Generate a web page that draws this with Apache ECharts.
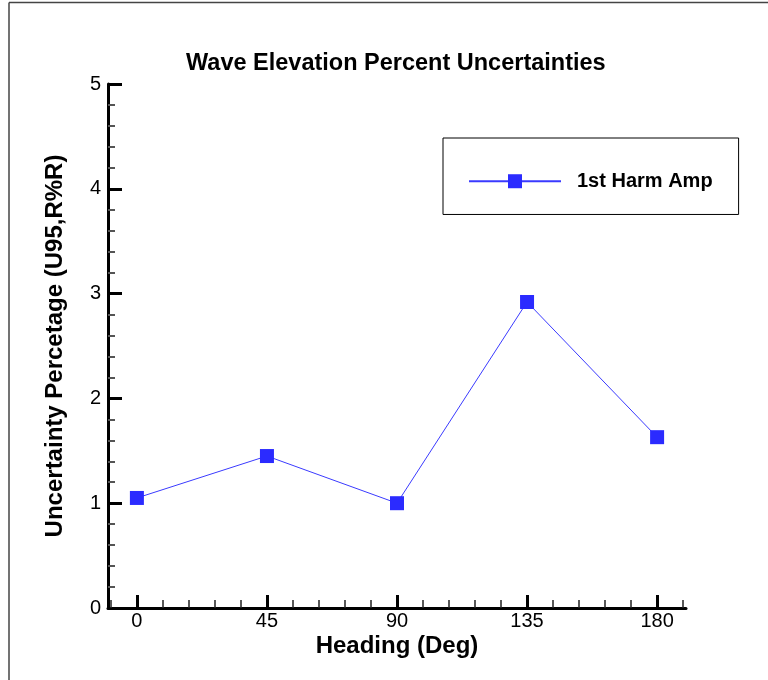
<!DOCTYPE html>
<html>
 <head>
  <title>Wave Elevation Percent Uncertainties</title>
  <script src="https://cdn.jsdelivr.net/npm/echarts@6/dist/echarts.min.js"></script>
  <style>
    html, body, #container {
    width: 100%;
    height: 100%;
    margin: 0;
    padding: 0;
    background: #fff;
    }
  </style>
 </head>

<body>
  <div id="container"></div>
  <script>
    var headings = [0, 45, 90, 135, 180];
    var uncertainty = [1.05, 1.45, 1.0, 2.92, 1.63];
    var xMajorTicks = [0, 45, 90, 135, 180];
    var xMinorTicks = [-9, 9, 18, 27, 36, 54, 63, 72, 81, 99, 108, 117, 126, 144, 153, 162, 171, 189];

    var font = '"Liberation Sans", Arial, sans-serif';
    var chartDom = document.getElementById('container');
    var myChart = echarts.init(chartDom);

    var points = headings.map(function (h, i) { return [h, uncertainty[i]]; });

    var options = {
      animation: false,
      textStyle: { fontFamily: font },
      title: {
        text: 'Wave Elevation Percent Uncertainties',
        left: 181,
        top: 38,
        textStyle: { fontFamily: font, fontSize: 23.5, fontWeight: 'bold', color: '#000' }
      },
      legend: {
        left: 443,
        top: 138,
        orient: 'horizontal',
        padding: [26, 26, 16, 25],
        borderColor: '#000',
        borderWidth: 1,
        itemWidth: 92,
        itemHeight: 17.5,
        textStyle: { fontFamily: font, fontSize: 20, fontWeight: 'bold', color: '#000', padding: [0, 0, 0, 11] },
        data: ['1st Harm Amp']
      },
      grid: { left: 108, top: 84, width: 578, height: 524, containLabel: false, outerBoundsMode: 'none' },
      xAxis: [
        {
          type: 'value',
          min: -10,
          max: 190,
          name: 'Heading (Deg)',
          nameLocation: 'middle',
          nameGap: 18,
          nameMoveOverlap: false,
          nameTextStyle: { fontFamily: font, fontSize: 24, fontWeight: 'bold', color: '#000' },
          axisLine: { show: true, onZero: false, lineStyle: { color: '#000', width: 3 } },
          axisTick: { show: true, inside: true, length: 13, customValues: xMajorTicks, lineStyle: { color: '#000', width: 3 } },
          axisLabel: { customValues: xMajorTicks, margin: -4, fontSize: 20, color: '#000', fontFamily: font },
          splitLine: { show: false }
        },
        {
          type: 'value',
          min: -10,
          max: 190,
          position: 'bottom',
          offset: 0,
          axisLine: { show: false, onZero: false },
          axisTick: { show: true, inside: true, length: 8, customValues: xMinorTicks, lineStyle: { color: '#222', width: 1.5 } },
          axisLabel: { show: false },
          splitLine: { show: false }
        }
      ],
      yAxis: {
        type: 'value',
        min: 0,
        max: 5,
        interval: 1,
        name: 'Uncertainty Percetage (U95,R%R)',
        nameLocation: 'middle',
        nameGap: 32,
        nameMoveOverlap: false,
        nameTextStyle: { fontFamily: font, fontSize: 24, fontWeight: 'bold', color: '#000' },
        axisLine: { show: true, onZero: false, lineStyle: { color: '#000', width: 3 } },
        axisTick: { show: true, inside: true, length: 14, lineStyle: { color: '#000', width: 3 } },
        minorTick: { show: true, splitNumber: 5, length: 7, lineStyle: { color: '#555', width: 2 } },
        axisLabel: { margin: 7, fontSize: 20, color: '#000', fontFamily: font },
        splitLine: { show: false }
      },
      graphic: [
        { type: 'line', shape: { x1: 9, y1: 2.5, x2: 768, y2: 2.5 }, style: { stroke: '#444', lineWidth: 1.5 } },
        { type: 'line', shape: { x1: 9, y1: 2.5, x2: 9, y2: 680 }, style: { stroke: '#444', lineWidth: 1.5 } }
      ],
      series: [
        {
          name: '1st Harm Amp',
          type: 'line',
          xAxisIndex: 0,
          data: points,
          symbol: 'rect',
          symbolSize: 14,
          showAllSymbol: true,
          lineStyle: { color: '#3a3aff', width: 1 },
          itemStyle: { color: '#2b2bff', borderWidth: 0 }
        }
      ]
    };

    myChart.setOption(options);
  </script>
</body>
</html>
